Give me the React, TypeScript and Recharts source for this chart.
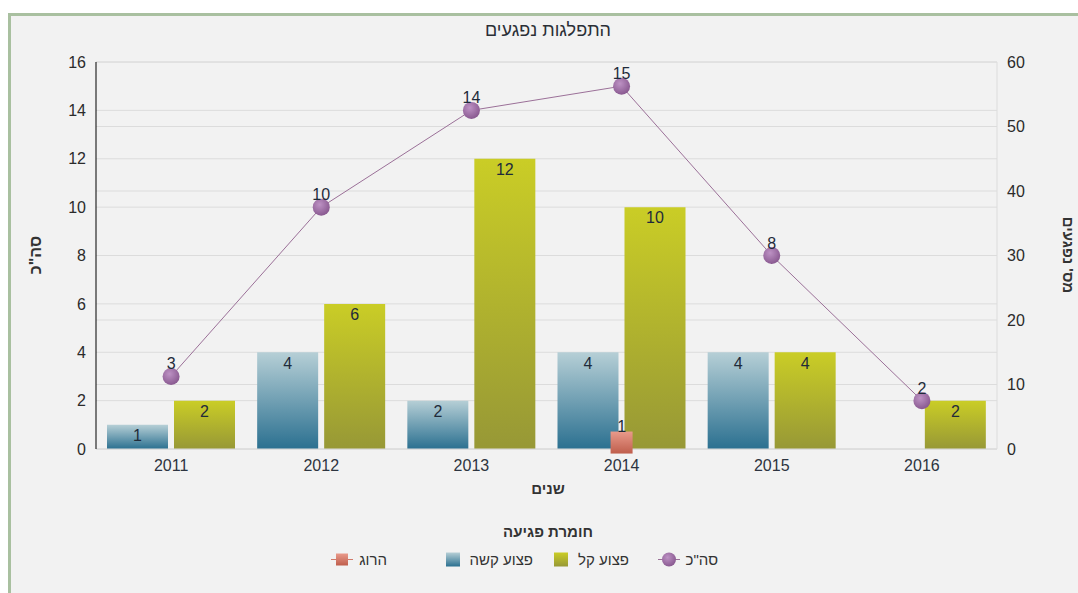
import { Bar, CartesianGrid, ComposedChart, LabelList, Line, XAxis, YAxis } from "recharts";

// data
const years = ["2011", "2012", "2013", "2014", "2015", "2016"];
const severe = [1, 4, 2, 4, 4, null]; // פצוע קשה
const light = [2, 6, 12, 10, 4, 2]; // פצוע קל
const killed = [null, null, null, 1, null, null]; // הרוג (right axis)
const total = [3, 10, 14, 15, 8, 2]; // סה"כ
const leftTicks = [0, 2, 4, 6, 8, 10, 12, 14, 16];
const rightTicks = [0, 10, 20, 30, 40, 50, 60];

const rows = years.map((year, i) => ({
  year,
  severe: severe[i],
  light: light[i],
  killed: killed[i],
  total: total[i],
}));

const FONT = '"Liberation Sans", Arial, "DejaVu Sans", sans-serif';
const TEXT = "#1f2b3a";
const GRID = "#dcdcdc";

function TotalDot(p: any) {
  if (p.cy == null || p.value == null) return <g key={p.index} />;
  return <circle key={p.index} cx={p.cx} cy={p.cy} r={8.5} fill="url(#gPurple)" />;
}

function KilledDot(p: any) {
  if (p.cy == null || p.value == null) return <g key={p.index} />;
  return <rect key={p.index} x={p.cx - 11} y={p.cy - 11} width={22} height={22} fill="url(#gRed)" />;
}

const overlay = (left: number, top: number, extra: any = {}) => ({
  position: "absolute" as const,
  left,
  top,
  transform: "translate(-50%, -50%)",
  whiteSpace: "nowrap" as const,
  ...extra,
});

function LegendItem({ right, label, marker }: { right: number; label: string; marker: any }) {
  return (
    <div
      style={{
        position: "absolute",
        right: 1067 - right,
        top: 543,
        transform: "translateY(-50%)",
        display: "flex",
        alignItems: "center",
        gap: 6,
        fontSize: 15,
        color: "#333",
        whiteSpace: "nowrap",
      }}
    >
      <svg width={22} height={16}>{marker}</svg>
      <span>{label}</span>
    </div>
  );
}

export default function App() {
  return (
    <div
      style={{
        position: "fixed",
        left: 8,
        top: 13,
        width: 1067,
        height: 577,
        background: "#f2f2f2",
        borderTop: "3px solid #a9c0a0",
        borderLeft: "3px solid #a9c0a0",
        fontFamily: FONT,
      }}
    >
      <ComposedChart
        width={1067}
        height={577}
        data={rows}
        margin={{ top: 46, right: 0, left: 0, bottom: 94 }}
        barCategoryGap={11}
        barGap={6}
      >
        <defs>
          <linearGradient id="gBlue" x1="0" y1="0" x2="0" y2="1">
            <stop offset="0%" stopColor="#b6cfd6" />
            <stop offset="100%" stopColor="#2b7090" />
          </linearGradient>
          <linearGradient id="gYellow" x1="0" y1="0" x2="0" y2="1">
            <stop offset="0%" stopColor="#cacd26" />
            <stop offset="100%" stopColor="#979836" />
          </linearGradient>
          <linearGradient id="gRed" x1="0" y1="0" x2="0" y2="1">
            <stop offset="0%" stopColor="#e99a8b" />
            <stop offset="100%" stopColor="#bf5e4c" />
          </linearGradient>
          <radialGradient id="gPurple" cx="40%" cy="35%" r="65%">
            <stop offset="0%" stopColor="#bd92c4" />
            <stop offset="100%" stopColor="#8a5a91" />
          </radialGradient>
        </defs>
        <CartesianGrid yAxisId="left" vertical={false} stroke={GRID} />
        <CartesianGrid yAxisId="right" vertical={false} stroke={GRID} />
        <XAxis
          dataKey="year"
          axisLine={{ stroke: GRID }}
          tickLine={false}
          tickMargin={5}
          height={50}
          tick={{ fontSize: 16, fill: "#2d3440" }}
        />
        <YAxis
          yAxisId="left"
          width={85}
          domain={[0, 16]}
          ticks={leftTicks}
          interval={0}
          axisLine={{ stroke: "#000" }}
          tickLine={false}
          tickMargin={4}
          tick={{ fontSize: 16, fill: "#2b2b2b" }}
        />
        <YAxis
          yAxisId="right"
          orientation="right"
          width={81}
          domain={[0, 60]}
          ticks={rightTicks}
          interval={0}
          axisLine={{ stroke: GRID }}
          tickLine={false}
          tickMargin={4}
          tick={{ fontSize: 16, fill: "#2b2b2b" }}
        />
        <Bar yAxisId="left" dataKey="severe" name="פצוע קשה" fill="url(#gBlue)" isAnimationActive={false}>
          <LabelList dataKey="severe" position="insideTop" offset={5} fill={TEXT} fontSize={16} />
        </Bar>
        <Bar yAxisId="left" dataKey="light" name="פצוע קל" fill="url(#gYellow)" isAnimationActive={false}>
          <LabelList dataKey="light" position="insideTop" offset={5} fill={TEXT} fontSize={16} />
        </Bar>
        <Line
          yAxisId="left"
          dataKey="total"
          name='סה"כ'
          stroke="#9b7098"
          strokeWidth={1}
          dot={TotalDot}
          activeDot={false}
          isAnimationActive={false}
        >
          <LabelList dataKey="total" position="top" offset={7} fill={TEXT} fontSize={16} />
        </Line>
        <Line
          yAxisId="right"
          dataKey="killed"
          name="הרוג"
          stroke="#d07a6a"
          strokeWidth={1}
          dot={KilledDot}
          activeDot={false}
          isAnimationActive={false}
        >
          <LabelList dataKey="killed" position="top" offset={11} fill={TEXT} fontSize={16} />
        </Line>
      </ComposedChart>

      <div style={overlay(537, 14, { fontSize: 18, color: "#2b2f36" })}>התפלגות נפגעים</div>
      <div style={overlay(537, 472, { fontSize: 15, fontWeight: "bold", color: "#333" })}>שנים</div>
      <div style={overlay(25, 239, { fontSize: 16, fontWeight: "bold", color: "#333", transform: "translate(-50%, -50%) rotate(-90deg)" })}>
        סה"כ
      </div>
      <div style={overlay(1057, 239, { fontSize: 15, fontWeight: "bold", color: "#333", transform: "translate(-50%, -50%) rotate(90deg)" })}>
        מס' נפגעים
      </div>

      <div style={overlay(537, 515, { fontSize: 15, fontWeight: "bold", color: "#333" })}>חומרת פגיעה</div>
      <LegendItem
        right={707}
        label='סה"כ'
        marker={
          <g>
            <defs>
              <radialGradient id="lgPurple" cx="40%" cy="35%" r="65%">
                <stop offset="0%" stopColor="#bd92c4" />
                <stop offset="100%" stopColor="#8a5a91" />
              </radialGradient>
            </defs>
            <line x1={0} y1={8} x2={22} y2={8} stroke="#9b7098" />
            <circle cx={11} cy={8} r={7} fill="url(#lgPurple)" />
          </g>
        }
      />
      <LegendItem
        right={618}
        label="פצוע קל"
        marker={
          <g>
            <defs>
              <linearGradient id="lgYellow" x1="0" y1="0" x2="0" y2="1">
                <stop offset="0%" stopColor="#cacd26" />
                <stop offset="100%" stopColor="#979836" />
              </linearGradient>
            </defs>
            <rect x={4} y={1} width={14} height={14} fill="url(#lgYellow)" />
          </g>
        }
      />
      <LegendItem
        right={522}
        label="פצוע קשה"
        marker={
          <g>
            <defs>
              <linearGradient id="lgBlue" x1="0" y1="0" x2="0" y2="1">
                <stop offset="0%" stopColor="#b6cfd6" />
                <stop offset="100%" stopColor="#2b7090" />
              </linearGradient>
            </defs>
            <rect x={4} y={1} width={14} height={14} fill="url(#lgBlue)" />
          </g>
        }
      />
      <LegendItem
        right={376}
        label="הרוג"
        marker={
          <g>
            <defs>
              <linearGradient id="lgRed" x1="0" y1="0" x2="0" y2="1">
                <stop offset="0%" stopColor="#e99a8b" />
                <stop offset="100%" stopColor="#bf5e4c" />
              </linearGradient>
            </defs>
            <line x1={0} y1={8} x2={22} y2={8} stroke="#d07a6a" />
            <rect x={5} y={2} width={12} height={12} fill="url(#lgRed)" />
          </g>
        }
      />
    </div>
  );
}
